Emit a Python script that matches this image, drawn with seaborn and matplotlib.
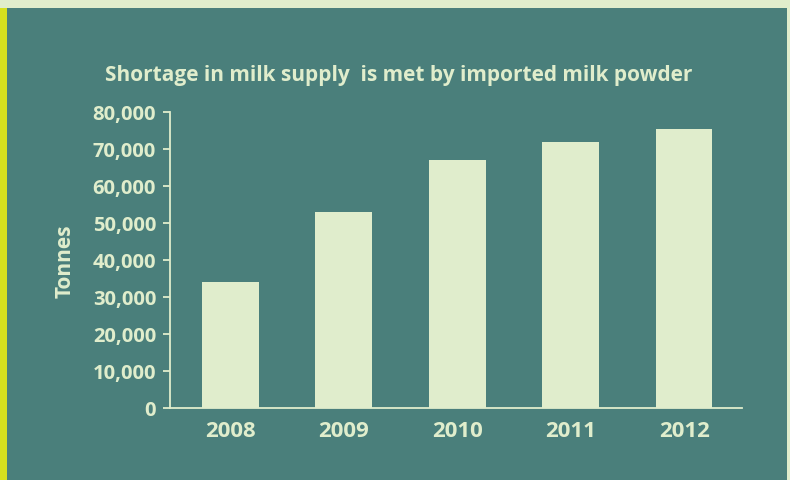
import matplotlib
matplotlib.use("Agg")
import matplotlib.pyplot as plt
from matplotlib.patches import Rectangle
from matplotlib.ticker import FuncFormatter
import pandas as pd
import seaborn as sns

# data
years = ["2008", "2009", "2010", "2011", "2012"]
tonnes = [34000, 53000, 67000, 72000, 75500]

teal = "#4a7f7b"
pale = "#e0edcc"
yellow = "#d6e01f"

sns.set_style("white")
plt.rcParams["font.family"] = ["Open Sans", "DejaVu Sans"]

df = pd.DataFrame({"year": years, "tonnes": tonnes})

fig = plt.figure(figsize=(7.9, 4.81), dpi=100)
fig.patch.set_facecolor(teal)
# frame decorations: pale top band, yellow left strip, pale right edge
fig.patches.append(Rectangle((0, 1 - 9 / 481), 1, 9 / 481, transform=fig.transFigure,
                             facecolor=pale, edgecolor="none", zorder=0))
fig.patches.append(Rectangle((0, 0), 7 / 790, 1 - 9 / 481, transform=fig.transFigure,
                             facecolor=yellow, edgecolor="none", zorder=0))
fig.patches.append(Rectangle((787 / 790, 0), 3 / 790, 1, transform=fig.transFigure,
                             facecolor=pale, edgecolor="none", zorder=0))

ax = fig.add_axes([170 / 790, 72 / 481, 572 / 790, 296 / 481])
ax.set_facecolor(teal)
sns.barplot(data=df, x="year", y="tonnes", color=pale, width=0.5,
            saturation=1, linewidth=0, ax=ax)

ax.set_ylim(0, 80000)
ax.set_xlim(-0.53, 4.51)
ax.set_yticks(range(0, 80001, 10000))
ax.yaxis.set_major_formatter(FuncFormatter(lambda v, p: f"{int(v):,}"))

for s in ["top", "right"]:
    ax.spines[s].set_visible(False)
for s in ["left", "bottom"]:
    ax.spines[s].set_color(pale)
    ax.spines[s].set_linewidth(1.3)

ax.tick_params(axis="y", left=True, length=5, width=1.3, color=pale,
               labelcolor=pale, labelsize=14.5, pad=5)
ax.tick_params(axis="x", bottom=False, labelcolor=pale, labelsize=16, pad=5)
for lab in ax.get_yticklabels() + ax.get_xticklabels():
    lab.set_fontweight("bold")

ax.set_xlabel("")
ax.set_ylabel("Tonnes", color=pale, fontsize=15, fontweight="bold", labelpad=12)

fig.text(399 / 790, 1 - 75 / 481, "Shortage in milk supply  is met by imported milk powder",
         ha="center", va="center", color=pale, fontsize=15, fontweight="bold")

fig.savefig("out.png", dpi=100, facecolor=fig.get_facecolor())
